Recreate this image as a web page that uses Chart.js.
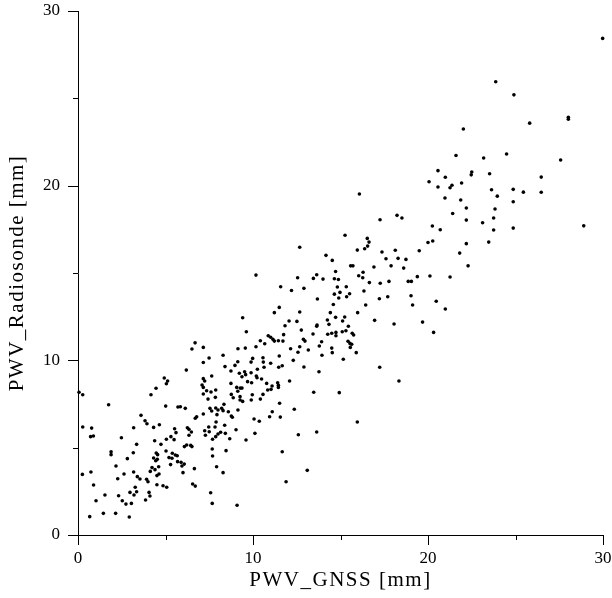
<!DOCTYPE html>
<html><head><meta charset="utf-8">
<script src="https://cdn.jsdelivr.net/npm/chart.js@4/dist/chart.umd.min.js"></script>
<style>html,body{margin:0;padding:0;background:#fff}canvas{display:block}</style>
</head><body>
<canvas id="c" width="612" height="598"></canvas>
<script>
// PWV_GNSS (x) and PWV_Radiosonde (y) pairs, in mm
const gnss = [
6.69,6.51,7.16,7.49,7.16,6.19,7.64,7.16,7.24,4.93,5.12,5.05,4.46,4.17,7.09,7.16,7.35,7.60,7.87,7.16,7.43,7.85,0.06,0.27,1.75,5.01,5.71,5.85,6.13,7.54,7.64,7.87,8.00,7.16,7.94,3.60,6.78,6.70,3.83,3.94,4.65,4.32,0.27,0.78,3.18,5.52,5.60,6.25,6.34,6.48,7.89,7.83,7.47,7.24,7.50,8.00,7.87,0.72,0.88,2.48,6.34,7.28,7.69,5.31,5.05,5.49,4.38,3.35,4.74,6.08,6.21,6.44,6.51,7.67,
1.89,1.89,3.16,2.82,4.47,4.55,4.32,4.53,4.44,5.03,5.39,5.56,5.67,5.20,5.37,5.69,5.89,6.07,5.94,5.29,7.69,7.92,4.23,4.40,4.61,4.51,4.63,4.13,2.17,3.18,2.63,0.25,0.74,2.27,3.39,3.54,3.92,4.00,6.00,6.65,4.51,4.86,5.07,6.55,6.70,0.89,3.27,2.97,3.20,3.35,4.06,4.11,1.54,2.32,7.58,1.03,2.53,2.74,3.05,3.86,7.67,1.45,2.15,0.67,2.93,
8.46,11.67,8.29,13.10,11.89,9.09,
11.50,11.22,12.67,14.59,16.44,9.41,12.06,12.51,14.42,15.98,14.25,14.72,15.24,15.12,13.66,13.64,11.83,14.34,15.45,12.76,9.62,15.10,15.31,15.67,15.75,14.27,14.50,14.74,14.74,11.75,13.43,10.87,11.01,11.14,11.22,11.45,11.71,12.88,12.97,10.42,10.67,13.92,13.79,15.43,15.54,15.64,15.56,10.17,12.67,9.14,9.56,12.15,14.50,14.53,13.16,12.57,15.90,8.29,11.50,13.94,9.98,10.57,10.59,9.89,9.13,8.97,12.30,15.16,11.01,11.47,11.67,10.63,8.40,12.91,8.74,10.25,10.19,10.23,9.89,9.52,9.58,9.22,9.37,13.77,10.49,12.09,9.69,9.92,8.74,10.78,11.41,11.45,11.45,11.09,9.07,9.27,9.37,9.13,10.84,11.03,13.47,14.93,8.76,8.87,9.96,9.90,10.57,10.42,9.26,9.41,9.26,8.34,11.52,8.21,8.29,8.59,9.14,12.36,11.10,10.95,8.76,8.82,11.56,10.06,10.36,15.96,8.38,9.03,8.15,8.42,8.67,10.11,9.60,12.59,13.64,
16.08,15.26,16.53,16.63,12.67,15.96,16.38,16.55,14.17,14.53,15.58,15.71,14.72,16.29,16.04,16.27,10.17,12.55,13.64,13.45,14.00,14.65,14.88,11.58,12.20,12.91,14.82,15.33,16.65,14.65,14.97,14.90,15.35,15.52,16.34,13.68,
21.60,23.18,24.49,20.57,20.99,22.50,22.47,23.52,20.06,20.57,21.26,21.37,21.92,23.63,23.96,24.87,24.87,20.97,21.87,22.19,23.83,21.41,17.26,18.23,18.51,22.19,23.75,23.12,20.25,20.70,23.75,24.87,20.00,20.27,22.19,23.47,17.37,18.13,19.50,21.81,17.60,18.29,18.74,16.91,17.89,18.61,22.29,19.39,20.11,21.26,17.27,17.77,18.87,19.05,17.22,17.70,19.03,
19.12,20.47,20.99,16.95,18.06,19.69,20.32,17.24,18.34,
23.87,24.91,22.02,
29.98,28.02,28.02,25.81,27.58,26.47,25.45,26.47,28.90,
-1.49,-0.86
];
const radiosonde = [
11.00,10.65,10.74,10.13,9.88,9.44,9.10,8.95,8.82,8.99,8.82,8.66,8.40,8.03,8.59,8.45,8.26,8.19,8.30,8.07,7.78,7.88,8.17,8.03,7.46,7.38,7.33,7.34,7.25,7.25,7.10,7.27,7.16,6.93,6.89,6.85,6.77,6.68,6.54,6.37,6.31,6.16,6.18,6.12,6.14,6.08,5.86,6.14,6.05,5.90,6.47,6.18,6.18,5.97,5.91,5.78,5.63,5.63,5.67,5.57,5.71,5.71,5.48,5.63,5.48,5.46,5.40,5.19,5.19,5.06,5.15,5.13,5.06,4.92,
4.77,4.60,4.71,4.37,4.69,4.60,4.41,4.33,4.25,4.81,4.68,4.58,4.54,4.43,4.39,4.20,4.16,4.06,3.95,4.03,4.52,3.91,3.86,3.74,3.91,3.40,3.49,3.64,3.95,3.61,3.49,3.47,3.61,3.22,3.34,3.21,3.19,3.05,3.57,3.80,2.88,2.82,2.73,2.92,2.80,2.86,2.73,2.44,2.29,2.48,2.44,2.23,2.29,2.25,2.42,1.96,1.96,1.77,1.81,2.00,1.81,1.24,1.24,1.05,1.03,
4.83,4.77,3.57,3.70,3.05,1.70,
13.03,12.73,12.77,13.20,13.17,12.44,12.25,12.23,12.73,12.73,12.31,12.46,12.48,12.25,12.02,11.95,11.98,12.06,11.95,11.73,11.64,11.64,11.69,11.55,11.45,11.49,11.55,11.60,11.41,11.47,11.51,11.41,11.32,11.20,11.10,11.12,11.10,11.20,11.10,11.12,10.95,11.06,10.82,11.09,10.97,10.92,10.74,10.78,10.78,10.66,10.70,10.66,10.70,10.44,10.59,10.46,10.44,10.29,10.25,10.29,10.11,10.15,9.90,9.90,9.92,9.71,10.00,10.06,9.83,9.60,9.69,9.60,9.64,9.62,9.39,9.49,9.10,9.00,9.29,9.35,9.18,9.26,9.06,9.35,8.93,8.82,8.78,8.72,8.68,8.68,8.72,8.57,8.45,8.53,8.45,8.41,8.41,8.23,8.30,8.34,8.17,8.15,8.05,7.86,8.03,7.73,8.05,7.78,7.92,7.65,7.73,7.48,7.54,7.25,7.12,7.06,7.16,7.20,7.06,6.77,6.81,6.74,6.75,6.64,6.51,6.47,6.28,6.03,5.88,5.82,5.51,5.82,5.44,5.74,5.90,
19.52,17.16,16.98,16.77,16.47,16.31,16.39,16.54,16.01,15.72,15.41,15.41,15.09,15.04,14.84,14.73,14.88,14.73,14.90,14.69,14.65,14.67,14.63,14.21,14.00,14.12,14.20,14.21,14.45,13.79,13.89,13.57,13.64,13.81,13.97,13.51,
21.73,21.58,21.81,20.86,20.48,20.78,20.62,20.68,20.22,19.92,19.88,20.02,20.15,19.77,19.40,19.79,19.08,19.29,19.18,18.72,18.66,18.41,18.05,18.30,18.15,18.03,18.15,17.88,17.69,17.48,17.46,17.57,16.75,16.83,16.68,16.77,16.20,16.30,16.27,16.14,15.82,15.84,15.78,15.34,15.41,15.28,15.41,14.79,14.83,14.77,14.41,14.52,14.52,14.52,13.53,13.64,13.70,
13.17,13.38,12.94,12.29,12.08,12.19,11.60,9.60,8.82,
25.95,25.20,23.24,
28.43,23.91,23.80,23.58,21.47,20.49,19.63,19.62,17.70,
5.27,4.92
];
const majorTicks = [0, 10, 20, 30];
const minorTicks = [5, 15, 25];
const xTitle = 'PWV_GNSS [mm]';
const yTitle = 'PWV_Radiosonde [mm]';

const points = gnss.map((g, i) => ({x: g, y: radiosonde[i]}));
const serif = "'Liberation Serif', 'Times New Roman', serif";

function zeroPad(s) { s.paddingLeft = 0; s.paddingRight = 0; s.paddingTop = 0; s.paddingBottom = 0; }

const tickPlugin = {
  id: 'axisTicks',
  afterDraw(chart) {
    const {ctx, scales: {x, y}, chartArea: a} = chart;
    ctx.save();
    ctx.strokeStyle = '#000';
    ctx.lineWidth = 1;
    ctx.beginPath();
    majorTicks.concat(minorTicks).forEach(v => {
      const len = majorTicks.includes(v) ? 10 : 5;
      const px = Math.round(x.getPixelForValue(v)) + 0.5;
      ctx.moveTo(px, a.bottom); ctx.lineTo(px, a.bottom + len);
      const py = Math.round(y.getPixelForValue(v)) + 0.5;
      ctx.moveTo(a.left, py); ctx.lineTo(a.left - len, py);
    });
    ctx.stroke();
    // axis titles (letter-spaced like the reference)
    ctx.fillStyle = '#000';
    ctx.font = "21px " + serif;
    ctx.textAlign = 'center';
    ctx.textBaseline = 'middle';
    if ('letterSpacing' in ctx) ctx.letterSpacing = '1.5px';
    ctx.fillText(xTitle, (a.left + a.right) / 2, 580);
    ctx.translate(17, (a.top + a.bottom) / 2);
    ctx.rotate(-Math.PI / 2);
    ctx.fillText(yTitle, 0, 0);
    ctx.restore();
  }
};

new Chart(document.getElementById('c'), {
  type: 'scatter',
  data: {
    datasets: [{
      data: points,
      backgroundColor: '#000',
      borderWidth: 0,
      pointRadius: 1.8,
      pointHoverRadius: 1.8,
      clip: false
    }]
  },
  options: {
    responsive: false,
    animation: false,
    devicePixelRatio: 1,
    layout: {autoPadding: false, padding: {top: 11, right: 9, left: 0, bottom: 0}},
    plugins: {legend: {display: false}, tooltip: {enabled: false}},
    scales: {
      x: {
        type: 'linear', min: 0, max: 30,
        afterFit(s) { s.height = 63; zeroPad(s); },
        grid: {display: false, drawTicks: false},
        border: {display: true, color: '#000', width: 1},
        ticks: {stepSize: 10, padding: 13, color: '#000', font: {family: serif, size: 17}, maxRotation: 0},
        title: {display: false}
      },
      y: {
        type: 'linear', min: 0, max: 30,
        afterFit(s) { s.width = 78; zeroPad(s); },
        grid: {display: false, drawTicks: false},
        border: {display: true, color: '#000', width: 1},
        ticks: {stepSize: 10, padding: 18, color: '#000', font: {family: serif, size: 17}},
        title: {display: false}
      }
    }
  },
  plugins: [tickPlugin]
});
</script>
</body></html>
